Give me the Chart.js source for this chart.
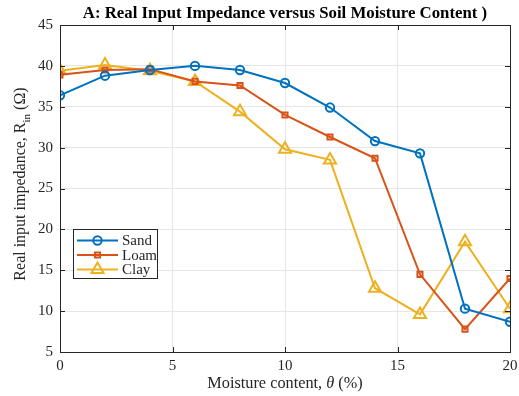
<!DOCTYPE html>
<html lang="en">
<head>
  <meta charset="UTF-8" />
  <title>Real Input Impedance</title>
  <script src="https://cdn.jsdelivr.net/npm/chart.js"></script>
  <style>
    body { margin: 0; background: #fff; }
    #wrap { width: 519px; height: 396px; }
  </style>
</head>
<body>
  <div id="wrap"><canvas id="chart" width="519" height="396"></canvas></div>
  <script>
    const moisture = [0, 2, 4, 6, 8, 10, 12, 14, 16, 18, 20];
    const sand = [36.4, 38.8, 39.5, 40.0, 39.5, 37.9, 34.9, 30.8, 29.3, 10.3, 8.7];
    const loam = [38.9, 39.5, 39.6, 38.1, 37.6, 34.0, 31.3, 28.7, 14.5, 7.8, 14.0];
    const clay = [39.4, 40.1, 39.4, 38.1, 34.4, 29.8, 28.5, 12.8, 9.6, 18.5, 10.3];
    const xTicks = [0, 5, 10, 15, 20];
    const yTicks = [5, 10, 15, 20, 25, 30, 35, 40, 45];

    const SERIF = '"Liberation Serif", "DejaVu Serif", serif';
    const TICK = '#262626';

    function pts(vals) {
      return moisture.map((x, i) => ({ x: x, y: vals[i] }));
    }

    // box, inward ticks, titles (MATLAB look)
    const decor = {
      id: 'decor',
      afterDraw(chart) {
        const ctx = chart.ctx;
        const a = chart.chartArea;
        const xs = chart.scales.x, ys = chart.scales.y;
        ctx.save();
        ctx.strokeStyle = '#262626';
        ctx.lineWidth = 1;
        ctx.strokeRect(Math.round(a.left) + 0.5, Math.round(a.top) + 0.5,
          Math.round(a.right - a.left), Math.round(a.bottom - a.top));
        ctx.beginPath();
        xTicks.forEach(t => {
          const px = Math.round(xs.getPixelForValue(t)) + 0.5;
          ctx.moveTo(px, a.bottom); ctx.lineTo(px, a.bottom - 5);
          ctx.moveTo(px, a.top); ctx.lineTo(px, a.top + 5);
        });
        yTicks.forEach(t => {
          const py = Math.round(ys.getPixelForValue(t)) + 0.5;
          ctx.moveTo(a.left, py); ctx.lineTo(a.left + 5, py);
          ctx.moveTo(a.right, py); ctx.lineTo(a.right - 5, py);
        });
        ctx.stroke();

        // title
        ctx.fillStyle = '#000';
        ctx.textAlign = 'center';
        ctx.textBaseline = 'alphabetic';
        ctx.font = 'bold 16.8px ' + SERIF;
        ctx.fillText('A: Real Input Impedance versus Soil Moisture Content )', (a.left + a.right) / 2, 18);

        // x title with italic theta
        ctx.fillStyle = TICK;
        ctx.font = '16.3px ' + SERIF;
        const p1 = 'Moisture content, ', p3 = ' (%)';
        const w1 = ctx.measureText(p1).width, w3 = ctx.measureText(p3).width;
        ctx.font = 'italic 16.3px ' + SERIF;
        const w2 = ctx.measureText('θ').width;
        let x0 = (a.left + a.right) / 2 - (w1 + w2 + w3) / 2;
        const yb = 388;
        ctx.textAlign = 'left';
        ctx.font = '16.3px ' + SERIF;
        ctx.fillText(p1, x0, yb);
        ctx.font = 'italic 16.3px ' + SERIF;
        ctx.fillText('θ', x0 + w1, yb);
        ctx.font = '16.3px ' + SERIF;
        ctx.fillText(p3, x0 + w1 + w2, yb);

        // y title with subscript
        ctx.translate(25, 184);
        ctx.rotate(-Math.PI / 2);
        const q1 = 'Real input impedance, R', q2 = 'in', q3 = ' (Ω)';
        ctx.font = '16px ' + SERIF;
        const v1 = ctx.measureText(q1).width, v3 = ctx.measureText(q3).width;
        ctx.font = '11px ' + SERIF;
        const v2 = ctx.measureText(q2).width;
        let s = -(v1 + v2 + v3) / 2;
        ctx.font = '16px ' + SERIF;
        ctx.fillText(q1, s, 0);
        ctx.font = '11px ' + SERIF;
        ctx.fillText(q2, s + v1, 5);
        ctx.font = '16px ' + SERIF;
        ctx.fillText(q3, s + v1 + v2, 0);
        ctx.restore();
      }
    };

    function series(label, vals, color, style, r) {
      return {
        label: label,
        data: pts(vals),
        borderColor: color,
        backgroundColor: 'rgba(255,255,255,0)',
        borderWidth: 2,
        pointStyle: style,
        pointRadius: r,
        pointHoverRadius: r,
        pointBorderWidth: 2,
        pointBackgroundColor: 'rgba(255,255,255,0)',
        pointBorderColor: color,
        tension: 0
      };
    }

    new Chart(document.getElementById('chart'), {
      type: 'line',
      data: {
        datasets: [
          series('Sand', sand, '#0072BD', 'circle', 4.2),
          series('Loam', loam, '#D95319', 'rect', 3.6),
          series('Clay', clay, '#EDB120', 'triangle', 7)
        ]
      },
      options: {
        responsive: false,
        animation: false,
        layout: { padding: { top: 25, right: 8, bottom: 0, left: 0 } },
        plugins: {
          legend: { display: false },
          title: { display: false },
          tooltip: { enabled: false }
        },
        scales: {
          x: {
            type: 'linear',
            min: 0, max: 20,
            afterBuildTicks: axis => { axis.ticks = xTicks.map(v => ({ value: v })); },
            afterFit: axis => { axis.height = 44; axis.paddingRight = 0; axis.paddingLeft = 0; },
            grid: { color: '#e6e6e6', drawTicks: false, drawOnChartArea: true },
            border: { display: false },
            ticks: { color: TICK, font: { family: SERIF, size: 15 }, padding: 5, maxRotation: 0 }
          },
          y: {
            min: 5, max: 45,
            afterBuildTicks: axis => { axis.ticks = yTicks.map(v => ({ value: v })); },
            afterFit: axis => { axis.width = 60; axis.paddingTop = 0; axis.paddingBottom = 0; },
            grid: { color: '#e6e6e6', drawTicks: false },
            border: { display: false },
            ticks: { color: TICK, font: { family: SERIF, size: 15 }, padding: 7 }
          }
        }
      },
      plugins: [decor, {
        id: 'legendBox',
        afterDraw(chart) {
          const ctx = chart.ctx;
          const ds = chart.data.datasets;
          ctx.save();
          ctx.fillStyle = '#fff';
          ctx.fillRect(73, 229, 84, 49);
          ctx.strokeStyle = '#262626';
          ctx.lineWidth = 1;
          ctx.strokeRect(73.5, 229.5, 84, 49);
          ds.forEach((d, i) => {
            const y = 240.5 + i * 14.5;
            ctx.strokeStyle = d.borderColor;
            ctx.lineWidth = 2;
            ctx.beginPath();
            ctx.moveTo(77, y); ctx.lineTo(118, y);
            ctx.stroke();
            ctx.fillStyle = 'rgba(255,255,255,0)';
            Chart.helpers.drawPoint(ctx, {
              pointStyle: d.pointStyle, radius: d.pointRadius, borderWidth: 2
            }, 97.5, y);
            ctx.fillStyle = TICK;
            ctx.font = '15px ' + SERIF;
            ctx.textAlign = 'left';
            ctx.textBaseline = 'middle';
            ctx.fillText(d.label, 122, y + 1);
          });
          ctx.restore();
        }
      }]
    });
  </script>
</body>
</html>
